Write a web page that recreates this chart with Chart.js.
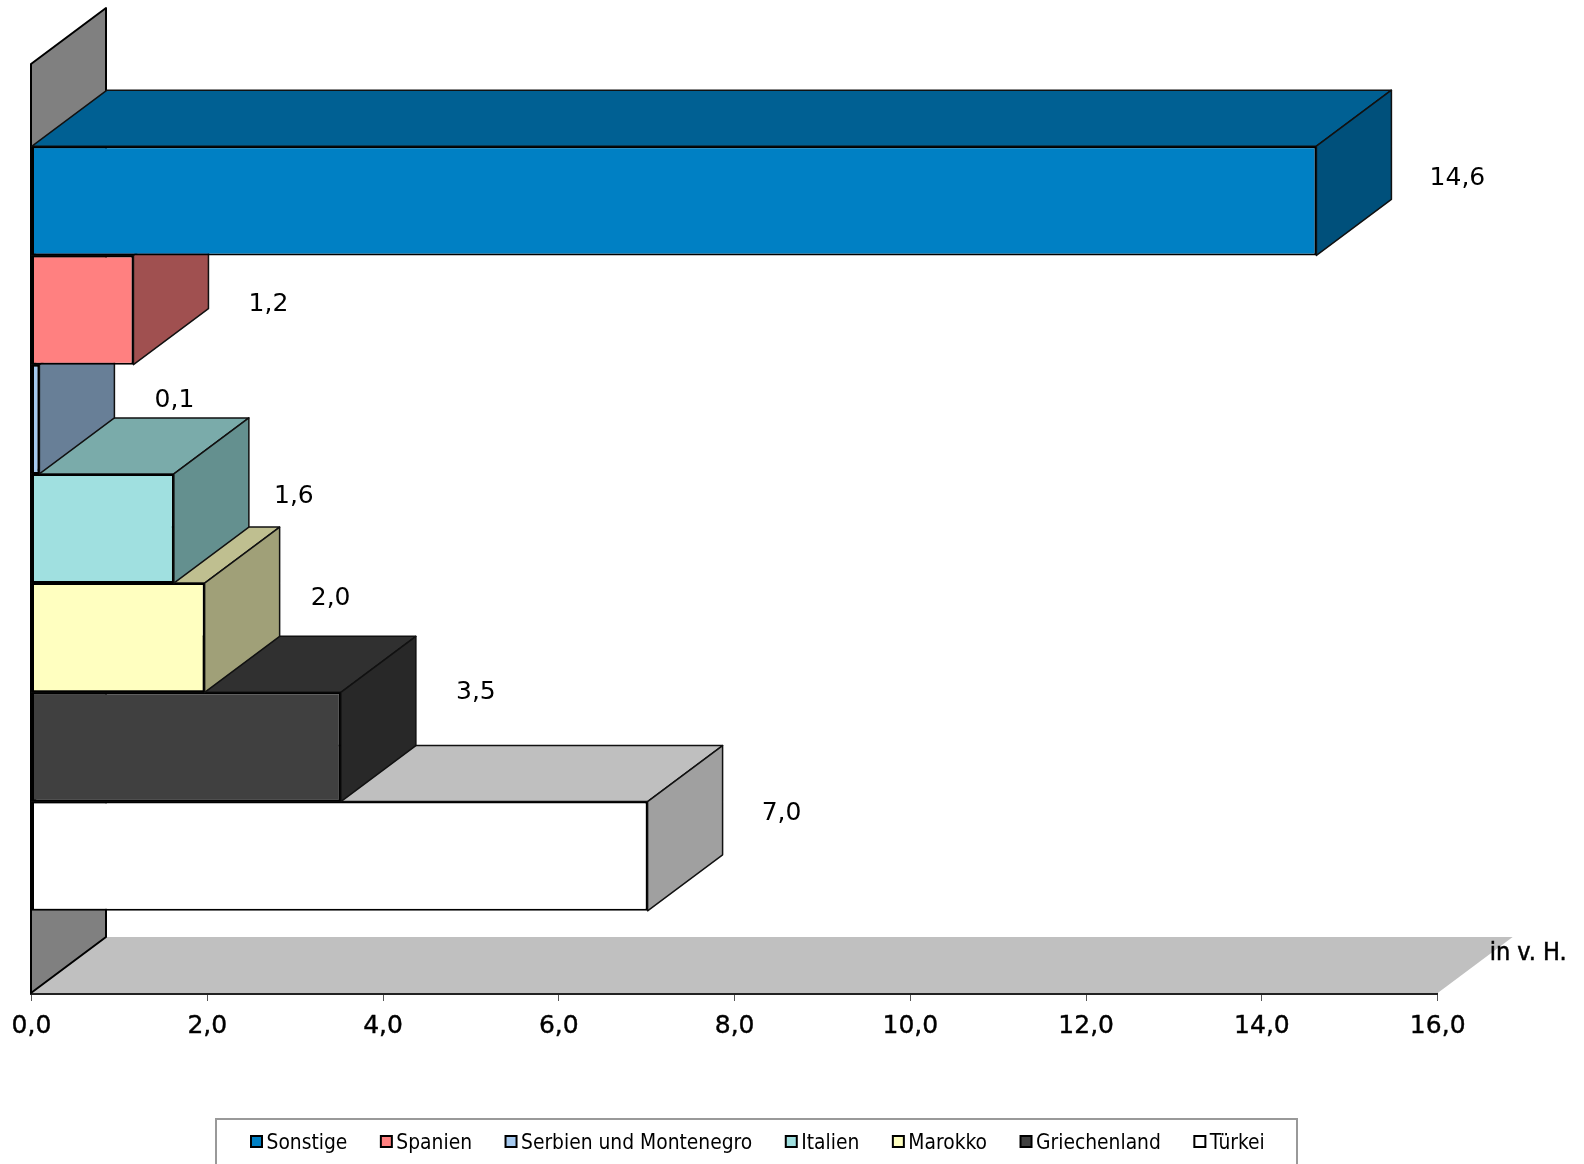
<!DOCTYPE html>
<html><head><meta charset="utf-8">
<style>html,body{margin:0;padding:0;background:#fff;overflow:hidden}canvas{display:block}</style>
<script src="https://cdn.jsdelivr.net/npm/chart.js@4"></script>
</head><body><canvas id="c" width="1584" height="1164"></canvas>
<script>
const CATEGORIES = [''];
const SERIES_NAMES = ['Sonstige','Spanien','Serbien und Montenegro','Italien','Marokko','Griechenland','Türkei'];
const SERIES_VALUES = [14.62,1.16,0.09,1.62,1.97,3.52,7.01];
const FRONT_COLORS = ['#0080C4','#FF8080','#A6CAF0','#A0E0E0','#FFFFC0','#404040','#FFFFFF'];
const TOP_COLORS = ['#006093','#BF6060','#7C97B4','#7AABAA','#BFBF90','#303030','#BFBFBF'];
const SIDE_COLORS = ['#00507B','#A05050','#687F97','#64908F','#A0A078','#282828','#A0A0A0'];
const X_MAX = 16, X_STEP = 2;
const UNIT_LABEL = 'in v. H.';

const DX = 75, DY = 56;
const LABEL_SHIFT = [[66,6],[60,22],[60,9],[45,-4],[51,-11],[60,-26],[59,-15]];
const FONT = '"DejaVu Sans",sans-serif';
const COND = '"DejaVu Sans Condensed","DejaVu Sans",sans-serif';
const fmt = v => Number(v).toFixed(1).replace('.',',');

function poly(ctx, pts, fill, stroke, lw){
  ctx.beginPath();
  pts.forEach((p,i)=> i?ctx.lineTo(p[0],p[1]):ctx.moveTo(p[0],p[1]));
  ctx.closePath();
  ctx.fillStyle = fill; ctx.fill();
  if(stroke){ctx.strokeStyle=stroke;ctx.lineWidth=lw;ctx.lineJoin='round';ctx.stroke();}
}

const box3d = {
  id:'box3d',
  beforeDatasetsDraw(chart){
    const {ctx,chartArea:a} = chart;
    const l = a.left-0.5;
    ctx.save();
    poly(ctx,[[l,a.bottom],[a.right,a.bottom],[a.right+DX,a.bottom-DY],[l+DX,a.bottom-DY]],'#C0C0C0');
    poly(ctx,[[l,a.top],[l+DX,a.top-DY],[l+DX,a.bottom-DY],[l,a.bottom]],'#808080','#000',2);
    ctx.restore();
  },
  beforeDatasetDraw(chart,args){
    const {ctx} = chart, i = args.index;
    const b = chart.getDatasetMeta(i).data[0].getProps(['x','y','base','height'],true);
    const t = b.y-b.height/2, bt = b.y+b.height/2;
    ctx.save();
    poly(ctx,[[b.base,t],[b.x,t],[b.x+DX,t-DY],[b.base+DX,t-DY]],TOP_COLORS[i],'#111',1.5);
    poly(ctx,[[b.x,t],[b.x+DX,t-DY],[b.x+DX,bt-DY],[b.x,bt]],SIDE_COLORS[i],'#111',1.5);
    ctx.restore();
  },
  afterDatasetsDraw(chart){
    const {ctx,chartArea:a} = chart;
    ctx.save();
    ctx.fillStyle='#000';ctx.textAlign='center';ctx.textBaseline='middle';
    ctx.font='25px '+FONT;
    SERIES_VALUES.forEach((v,i)=>{
      const b = chart.getDatasetMeta(i).data[0];
      ctx.fillText(fmt(v), b.x+DX+LABEL_SHIFT[i][0], b.y-DY/2+LABEL_SHIFT[i][1]);
    });
    ctx.textAlign='left';
    ctx.font='25px '+COND;
    ctx.strokeStyle='#000';ctx.lineWidth=0.5;
    ctx.fillText(UNIT_LABEL, a.right+52, a.bottom-40);
    ctx.strokeText(UNIT_LABEL, a.right+52, a.bottom-40);
    // legend
    const lx=216, ly=1119, lw=1081;
    ctx.strokeStyle='#999';ctx.lineWidth=2;
    ctx.beginPath();ctx.moveTo(lx,1170);ctx.lineTo(lx,ly);ctx.lineTo(lx+lw,ly);ctx.lineTo(lx+lw,1170);ctx.stroke();
    ctx.font='20.8px '+COND;
    let x=251;
    const cy=1142;
    SERIES_NAMES.forEach((n,i)=>{
      ctx.fillStyle=FRONT_COLORS[i];ctx.fillRect(x,cy-6,11,11);
      ctx.strokeStyle='#000';ctx.lineWidth=2;ctx.strokeRect(x,cy-6,11,11);
      ctx.fillStyle='#000';
      ctx.fillText(n,x+15.5,cy+1.5);
      x+=15.5+ctx.measureText(n).width+33.5;
    });
    ctx.restore();
  }
};

new Chart(document.getElementById('c'),{
  type:'bar',
  data:{labels:CATEGORIES,datasets:SERIES_NAMES.map((n,i)=>({
    label:n,data:[SERIES_VALUES[i]],backgroundColor:FRONT_COLORS[i],borderColor:'#000',borderWidth:2,borderSkipped:false,
    categoryPercentage:0.823,barPercentage:1
  }))},
  plugins:[box3d],
  options:{
    indexAxis:'y',responsive:false,animation:false,devicePixelRatio:1,
    layout:{padding:{left:31.5,right:146.3,top:64,bottom:0}},
    plugins:{legend:{display:false},title:{display:false},tooltip:{enabled:false}},
    scales:{
      y:{display:false,offset:true,grid:{display:false}},
      x:{min:0,max:X_MAX,position:'bottom',
        afterFit(s){s.height=171;},
        border:{display:true,color:'#222',width:3},
        grid:{drawOnChartArea:false,drawTicks:true,tickLength:8,color:'#555',lineWidth:1},
        ticks:{stepSize:X_STEP,maxRotation:0,padding:10,color:'#000',font:{family:FONT,size:25},textStrokeColor:'#000',textStrokeWidth:0.4,callback:v=>fmt(v)}
      }
    }
  }
});
</script></body></html>
